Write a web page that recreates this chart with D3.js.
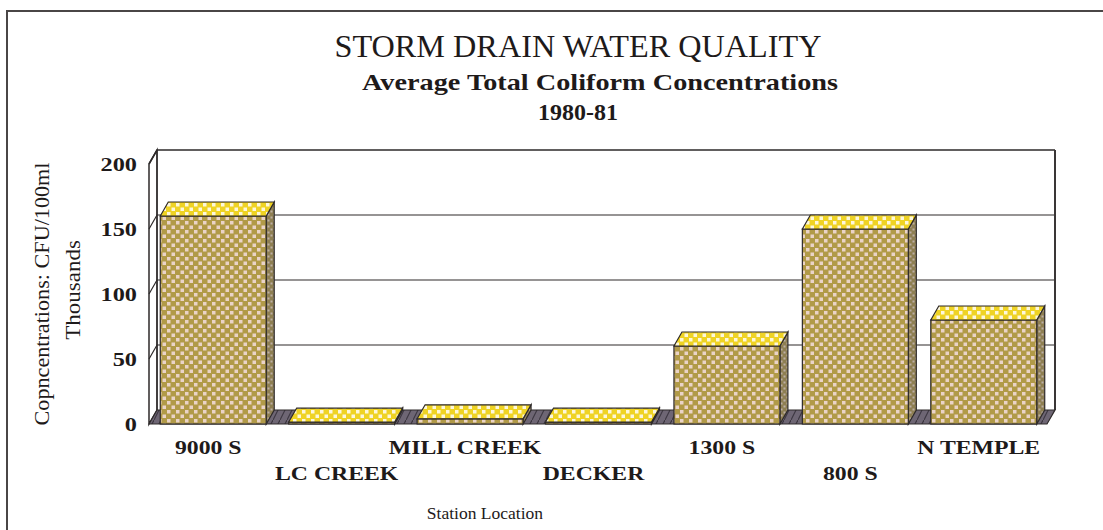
<!DOCTYPE html>
<html>
<head>
<meta charset="utf-8">
<script src="https://cdn.jsdelivr.net/npm/d3@7/dist/d3.min.js"></script>
<style>
  html, body { margin: 0; padding: 0; background: #ffffff; }
  svg { display: block; }
  text { font-family: "Liberation Serif", "DejaVu Serif", serif; fill: #1e1a1a; }
</style>
</head>
<body>
<svg id="chart" width="1103" height="530"></svg>
<script>
// ---- data ----
const categories = ["9000 S", "LC CREEK", "MILL CREEK", "DECKER", "1300 S", "800 S", "N TEMPLE"];
const values = [160, 1.5, 4, 1.5, 60, 150, 80];
const yTicks = [0, 50, 100, 150, 200];
const titleText = "STORM DRAIN WATER QUALITY";
const subtitleText = "Average Total  Coliform Concentrations";
const yearText = "1980-81";
const yTitle1 = "Copncentrations: CFU/100ml";
const yTitle2 = "Thousands";
const xTitle = "Station Location";

// ---- layout ----
const W = 1103, H = 530;
const DX = 8, DY = -14;           // 3D depth offset
const svg = d3.select("#chart");
const x = d3.scaleBand().domain(categories).range([150, 1047]).paddingInner(0.175).paddingOuter(0.08);
const y = d3.scaleLinear().domain([0, 200]).range([424, 164]);
const x0 = 149, x1 = 1047;

function stretch(sel, f) {
  sel.each(function () {
    const len = this.getComputedTextLength();
    d3.select(this).attr("textLength", len * f).attr("lengthAdjust", "spacingAndGlyphs");
  });
}

// ---- patterns ----
const defs = svg.append("defs");
function checker(id, bg, fg, s) {
  const p = defs.append("pattern").attr("id", id).attr("patternUnits", "userSpaceOnUse")
    .attr("width", s * 2).attr("height", s * 2);
  p.append("rect").attr("width", s * 2).attr("height", s * 2).attr("fill", bg);
  p.append("rect").attr("x", 0.5).attr("y", 0.5).attr("width", s - 1).attr("height", s - 1).attr("fill", fg);
  p.append("rect").attr("x", s + 0.5).attr("y", s + 0.5).attr("width", s - 1).attr("height", s - 1).attr("fill", fg);
}
checker("pFront", "#b19a48", "#ead3c8", 4.5);
checker("pTop", "#efd324", "#fdf7dc", 4.5);
checker("pSide", "#8e7f52", "#bdaea6", 3);
const fp = defs.append("pattern").attr("id", "pFloor").attr("patternUnits", "userSpaceOnUse")
  .attr("width", 7).attr("height", 14);
fp.append("rect").attr("width", 7).attr("height", 14).attr("fill", "#6e6674");
fp.append("line").attr("x1", 0).attr("y1", 14).attr("x2", 7).attr("y2", 0)
  .attr("stroke", "#3c3640").attr("stroke-width", 1.2);

// ---- outer frame ----
svg.append("path").attr("d", `M7,${H} L7,11 L${W},11`).attr("fill", "none")
  .attr("stroke", "#4a4646").attr("stroke-width", 2);

// ---- titles ----
svg.append("text").attr("x", 578).attr("y", 57).attr("text-anchor", "middle")
  .attr("font-size", 32).attr("textLength", 487).attr("lengthAdjust", "spacingAndGlyphs").text(titleText);
svg.append("text").attr("x", 600).attr("y", 90).attr("text-anchor", "middle")
  .attr("font-size", 23).attr("font-weight", "bold").attr("textLength", 476)
  .attr("lengthAdjust", "spacingAndGlyphs").text(subtitleText);
svg.append("text").attr("x", 578).attr("y", 120).attr("text-anchor", "middle")
  .attr("font-size", 23).attr("font-weight", "bold").attr("textLength", 80)
  .attr("lengthAdjust", "spacingAndGlyphs").text(yearText);

// ---- walls ----
const g = svg.append("g");
g.append("rect").attr("x", x0 + DX).attr("y", y(200) + DY).attr("width", x1 - x0)
  .attr("height", y(0) - y(200)).attr("fill", "#ffffff");
g.append("path").attr("d", `M${x0},${y(200)} L${x0 + DX},${y(200) + DY} L${x0 + DX},${y(0) + DY} L${x0},${y(0)} Z`)
  .attr("fill", "#ffffff").attr("stroke", "#2e2a2a").attr("stroke-width", 1.5);
yTicks.filter(t => t > 0).forEach(t => {
  g.append("path").attr("d", `M${x0},${y(t)} L${x0 + DX},${y(t) + DY} L${x1 + DX},${y(t) + DY}`)
    .attr("fill", "none").attr("stroke", "#2e2a2a").attr("stroke-width", t === 200 ? 1.6 : 1.2);
});
g.append("line").attr("x1", x1 + DX).attr("x2", x1 + DX).attr("y1", y(200) + DY).attr("y2", y(0) + DY)
  .attr("stroke", "#3a3636").attr("stroke-width", 2);
g.append("line").attr("x1", x0 + DX).attr("x2", x0 + DX).attr("y1", y(200) + DY).attr("y2", y(0) + DY)
  .attr("stroke", "#2e2a2a").attr("stroke-width", 1.2);

// floor
g.append("path").attr("d", `M${x0},${y(0)} L${x0 + DX},${y(0) + DY} L${x1 + DX},${y(0) + DY} L${x1},${y(0)} Z`)
  .attr("fill", "url(#pFloor)").attr("stroke", "#2e2a2a").attr("stroke-width", 1.2);

// ---- bars ----
const bw = x.bandwidth();
const bars = g.selectAll("g.bar").data(categories.map((c, i) => ({ c, v: values[i] })))
  .join("g").attr("class", "bar");
bars.append("path")
  .attr("d", d => { const L = x(d.c) + bw, T = y(d.v), B = y(0);
    return `M${L},${T} L${L + DX},${T + DY} L${L + DX},${B + DY} L${L},${B} Z`; })
  .attr("fill", "url(#pSide)").attr("stroke", "#2e2a2a").attr("stroke-width", 1.2);
bars.append("rect")
  .attr("x", d => x(d.c)).attr("y", d => y(d.v)).attr("width", bw).attr("height", d => y(0) - y(d.v))
  .attr("fill", "url(#pFront)").attr("stroke", "#2e2a2a").attr("stroke-width", 1.2);
bars.append("path")
  .attr("d", d => { const L = x(d.c), T = y(d.v);
    return `M${L},${T} L${L + DX},${T + DY} L${L + bw + DX},${T + DY} L${L + bw},${T} Z`; })
  .attr("fill", "url(#pTop)").attr("stroke", "#2e2a2a").attr("stroke-width", 1.2);

// ---- y axis ----
const yAxis = d3.axisLeft(y).tickValues(yTicks).tickSize(0).tickPadding(0).tickFormat(d3.format("d"));
const ya = svg.append("g").attr("transform", "translate(137,0)").call(yAxis);
ya.select(".domain").remove();
ya.selectAll("text").attr("font-size", 18).attr("font-weight", "bold")
  .attr("font-family", "'Liberation Serif', serif").attr("fill", "#1e1a1a").attr("dy", "0.35em");
stretch(ya.selectAll("text"), 1.35);

// ---- x labels (alternating rows) ----
const xl = svg.append("g").selectAll("text").data(categories).join("text")
  .attr("x", d => x(d) + bw / 2 - 5)
  .attr("y", (d, i) => i % 2 === 0 ? 454 : 480)
  .attr("text-anchor", "middle").attr("font-size", 19).attr("font-weight", "bold")
  .text(d => d);
stretch(xl, 1.25);

// ---- axis titles ----
svg.append("text").attr("transform", "translate(49,294) rotate(-90)").attr("text-anchor", "middle")
  .attr("font-size", 20).attr("textLength", 263).attr("lengthAdjust", "spacingAndGlyphs").text(yTitle1);
const t2 = svg.append("text").attr("transform", "translate(80,290) rotate(-90)").attr("text-anchor", "middle")
  .attr("font-size", 20).text(yTitle2);
stretch(t2, 1.15);
const t3 = svg.append("text").attr("x", 485).attr("y", 519).attr("text-anchor", "middle")
  .attr("font-size", 17).text(xTitle);
stretch(t3, 1.03);
</script>
</body>
</html>
